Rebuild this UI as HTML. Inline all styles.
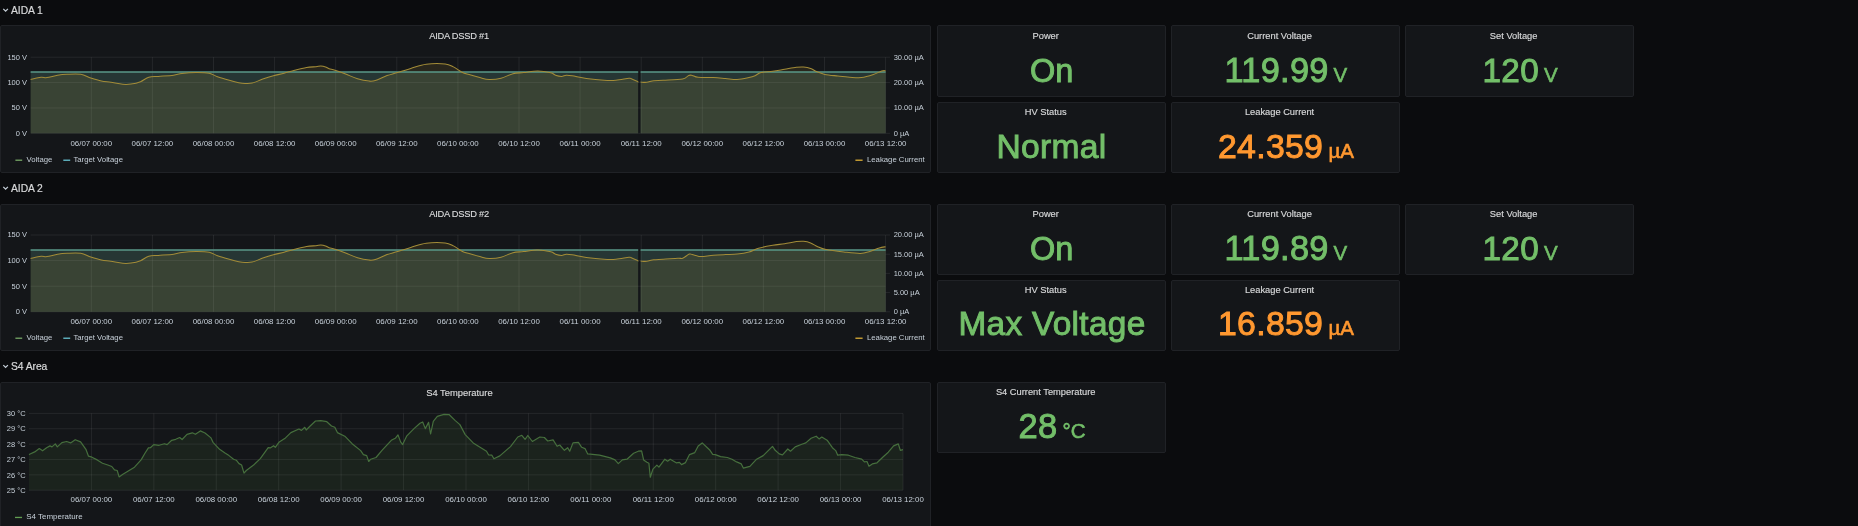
<!DOCTYPE html>
<html><head><meta charset="utf-8"><title>Grafana</title><style>
*{margin:0;padding:0;box-sizing:border-box}
html,body{width:1858px;height:526px;overflow:hidden;background:#0b0c0e}
body{position:relative;font-family:"Liberation Sans", Arial, sans-serif}
.p{position:absolute;background:#141619;border:1px solid #202226;border-radius:2px}
svg{position:absolute;left:0;top:0;will-change:transform}
text{font-family:"Liberation Sans", Arial, sans-serif}
.rh{font-size:10.3px;fill:#d8d9da;letter-spacing:-0.05px;stroke:#d8d9da;stroke-width:0.2px}
.pt{font-size:9.3px;fill:#d8d9da;letter-spacing:-0.25px;stroke:#d8d9da;stroke-width:0.15px}
.st{font-size:9.3px;fill:#d8d9da;stroke:#d8d9da;stroke-width:0.15px}
.tk{font-size:7.5px;fill:#c7d0d9}
.tx{font-size:7.9px;fill:#c7d0d9}
.lg{font-size:7.75px;fill:#c7d0d9}
.sv{font-size:33px;stroke-width:0.95px;letter-spacing:0.3px}
.su{font-size:20.5px;stroke-width:0.6px}
</style></head>
<body>
<div class="p" style="left:0px;top:25px;width:931px;height:148px"></div><div class="p" style="left:0px;top:204px;width:931px;height:147px"></div><div class="p" style="left:0px;top:382.3px;width:931px;height:177.7px"></div><div class="p" style="left:937.1px;top:25.2px;width:229.2px;height:71.5px"></div><div class="p" style="left:1170.8px;top:25.2px;width:229.5px;height:71.5px"></div><div class="p" style="left:1405px;top:25.2px;width:229.3px;height:71.5px"></div><div class="p" style="left:937.1px;top:101.7px;width:229.2px;height:71.3px"></div><div class="p" style="left:1170.8px;top:101.7px;width:229.5px;height:71.3px"></div><div class="p" style="left:937.1px;top:204px;width:229.2px;height:71px"></div><div class="p" style="left:1170.8px;top:204px;width:229.5px;height:71px"></div><div class="p" style="left:1405px;top:204px;width:229.3px;height:71px"></div><div class="p" style="left:937.1px;top:280px;width:229.2px;height:71px"></div><div class="p" style="left:1170.8px;top:280px;width:229.5px;height:71px"></div><div class="p" style="left:937.1px;top:382.3px;width:229.2px;height:70.5px"></div>
<svg width="1858" height="526" viewBox="0 0 1858 526">
<path d="M3.3 8.9 L5.6 11.2 L7.9 8.9" stroke="#c7d0d9" stroke-width="1.25" fill="none"/>
<text x="11" y="14.1" class="rh">AIDA 1</text>
<path d="M3.3 186.9 L5.6 189.2 L7.9 186.9" stroke="#c7d0d9" stroke-width="1.25" fill="none"/>
<text x="11" y="192.1" class="rh">AIDA 2</text>
<path d="M3.3 365.1 L5.6 367.4 L7.9 365.1" stroke="#c7d0d9" stroke-width="1.25" fill="none"/>
<text x="11" y="370.3" class="rh">S4 Area</text>
<text x="459.1" y="38.7" class="pt" text-anchor="middle">AIDA DSSD #1</text>
<line x1="30.6" x2="885.6" y1="133.3" y2="133.3" stroke="rgba(255,255,255,0.075)" stroke-width="1"/>
<line x1="30.6" x2="885.6" y1="107.93" y2="107.93" stroke="rgba(255,255,255,0.075)" stroke-width="1"/>
<line x1="30.6" x2="885.6" y1="82.57" y2="82.57" stroke="rgba(255,255,255,0.075)" stroke-width="1"/>
<line x1="30.6" x2="885.6" y1="57.2" y2="57.2" stroke="rgba(255,255,255,0.075)" stroke-width="1"/>
<line x1="885.6" x2="885.6" y1="57.2" y2="133.3" stroke="rgba(255,255,255,0.075)" stroke-width="1"/>
<line x1="824.5" x2="824.5" y1="57.2" y2="133.3" stroke="rgba(255,255,255,0.075)" stroke-width="1"/>
<line x1="763.4" x2="763.4" y1="57.2" y2="133.3" stroke="rgba(255,255,255,0.075)" stroke-width="1"/>
<line x1="702.3" x2="702.3" y1="57.2" y2="133.3" stroke="rgba(255,255,255,0.075)" stroke-width="1"/>
<line x1="641.2" x2="641.2" y1="57.2" y2="133.3" stroke="rgba(255,255,255,0.075)" stroke-width="1"/>
<line x1="580.1" x2="580.1" y1="57.2" y2="133.3" stroke="rgba(255,255,255,0.075)" stroke-width="1"/>
<line x1="519" x2="519" y1="57.2" y2="133.3" stroke="rgba(255,255,255,0.075)" stroke-width="1"/>
<line x1="457.9" x2="457.9" y1="57.2" y2="133.3" stroke="rgba(255,255,255,0.075)" stroke-width="1"/>
<line x1="396.8" x2="396.8" y1="57.2" y2="133.3" stroke="rgba(255,255,255,0.075)" stroke-width="1"/>
<line x1="335.7" x2="335.7" y1="57.2" y2="133.3" stroke="rgba(255,255,255,0.075)" stroke-width="1"/>
<line x1="274.6" x2="274.6" y1="57.2" y2="133.3" stroke="rgba(255,255,255,0.075)" stroke-width="1"/>
<line x1="213.5" x2="213.5" y1="57.2" y2="133.3" stroke="rgba(255,255,255,0.075)" stroke-width="1"/>
<line x1="152.4" x2="152.4" y1="57.2" y2="133.3" stroke="rgba(255,255,255,0.075)" stroke-width="1"/>
<line x1="91.3" x2="91.3" y1="57.2" y2="133.3" stroke="rgba(255,255,255,0.075)" stroke-width="1"/>
<rect x="30.6" y="72.07" width="607.6" height="61.23" fill="rgba(126,178,109,0.10)"/>
<rect x="30.6" y="72.07" width="607.6" height="61.23" fill="rgba(110,208,224,0.10)"/>
<rect x="640.6" y="72.07" width="245" height="61.23" fill="rgba(126,178,109,0.10)"/>
<rect x="640.6" y="72.07" width="245" height="61.23" fill="rgba(110,208,224,0.10)"/>
<path d="M30.6,79.5 C32.33,79.12 38.28,77.52 41,77.2 C43.72,76.88 44.13,77.93 46.9,77.6 C49.67,77.27 54.23,75.75 57.6,75.2 C60.97,74.65 63.25,74.45 67.1,74.3 C70.95,74.15 76.75,73.7 80.7,74.3 C84.65,74.9 87.35,76.8 90.8,77.9 C94.25,79 98.05,80.17 101.4,80.9 C104.75,81.63 107.35,81.73 110.9,82.3 C114.45,82.87 119.35,84 122.7,84.3 C126.05,84.6 128.03,84.53 131,84.1 C133.97,83.67 137.53,82.85 140.5,81.7 C143.47,80.55 145.83,78.08 148.8,77.2 C151.77,76.32 154.17,76.73 158.3,76.4 C162.43,76.07 169.67,75.7 173.6,75.2 C177.53,74.7 178.15,73.85 181.9,73.4 C185.65,72.95 191.55,72.53 196.1,72.5 C200.65,72.47 205.63,72.5 209.2,73.2 C212.77,73.9 214.15,75.52 217.5,76.7 C220.85,77.88 225.75,79.3 229.3,80.3 C232.85,81.3 236.18,82.17 238.8,82.7 C241.42,83.23 242.78,83.43 245,83.5 C247.22,83.57 249.13,83.83 252.1,83.1 C255.07,82.37 259.25,80.32 262.8,79.1 C266.35,77.88 269.85,76.78 273.4,75.8 C276.95,74.82 280.55,74.13 284.1,73.2 C287.65,72.27 290.95,71.15 294.7,70.2 C298.45,69.25 303.05,68.08 306.6,67.5 C310.15,66.92 313.63,66.93 316,66.7 C318.37,66.47 319.22,66.07 320.8,66.1 C322.38,66.13 324.12,66.47 325.5,66.9 C326.88,67.33 327.52,68.15 329.1,68.7 C330.68,69.25 332.25,69.32 335,70.2 C337.75,71.08 341.85,72.57 345.6,74 C349.35,75.43 353.55,77.62 357.5,78.8 C361.45,79.98 366.33,80.82 369.3,81.1 C372.27,81.38 372.33,81.42 375.3,80.5 C378.27,79.58 383.55,76.88 387.1,75.6 C390.65,74.32 392.65,74 396.6,72.8 C400.55,71.6 405.87,69.83 410.8,68.4 C415.73,66.97 420.48,64.95 426.2,64.2 C431.92,63.45 440.57,63.45 445.1,63.9 C449.63,64.35 450.58,65.52 453.4,66.9 C456.22,68.28 459.38,70.92 462,72.2 C464.62,73.48 466.13,73.7 469.1,74.6 C472.07,75.5 476.45,76.8 479.8,77.6 C483.15,78.4 485.65,79.3 489.2,79.4 C492.75,79.5 497.15,79.15 501.1,78.2 C505.05,77.25 509.15,74.63 512.9,73.7 C516.65,72.77 519.45,73.05 523.6,72.6 C527.75,72.15 533.27,70.97 537.8,71 C542.33,71.03 547.85,72.1 550.8,72.8 C553.75,73.5 553.72,74.6 555.5,75.2 C557.28,75.8 559.72,76.38 561.5,76.4 C563.28,76.42 564.43,75.4 566.2,75.3 C567.97,75.2 568.75,75.28 572.1,75.8 C575.45,76.32 580.97,77.67 586.3,78.4 C591.63,79.13 599.17,79.9 604.1,80.2 C609.03,80.5 611.75,80.53 615.9,80.2 C620.05,79.87 626.43,78.43 629,78.2 C631.57,77.97 629.83,78.22 631.3,78.8 C632.77,79.38 636.65,81.2 637.8,81.7 C638.95,82.2 638.13,81.78 638.2,81.8 L638.2,133.3 L30.6,133.3 Z" fill="rgba(234,184,57,0.10)"/>
<path d="M640.6,82.1 C641.62,82.13 644.5,82.52 646.7,82.3 C648.9,82.08 651.03,81.13 653.8,80.8 C656.57,80.47 658.48,80.6 663.3,80.3 C668.12,80 678.47,79.82 682.7,79 C686.93,78.18 687.12,76 688.7,75.4 C690.28,74.8 690.63,75.08 692.2,75.4 C693.77,75.72 694.55,76.93 698.1,77.3 C701.65,77.67 708.95,77.4 713.5,77.6 C718.05,77.8 721.45,78.18 725.4,78.5 C729.35,78.82 733.27,79.65 737.2,79.5 C741.13,79.35 746.03,78.22 749,77.6 C751.97,76.98 753.02,76.63 755,75.8 C756.98,74.97 757.95,73.35 760.9,72.6 C763.85,71.85 768.75,71.85 772.7,71.3 C776.65,70.75 780.65,69.97 784.6,69.3 C788.55,68.63 793.25,67.68 796.4,67.3 C799.55,66.92 801.13,66.82 803.5,67 C805.87,67.18 808.43,67.63 810.6,68.4 C812.77,69.17 814.13,70.6 816.5,71.6 C818.87,72.6 821.23,73.67 824.8,74.4 C828.37,75.13 833.75,75.53 837.9,76 C842.05,76.47 845.77,76.93 849.7,77.2 C853.63,77.47 857.55,78.03 861.5,77.6 C865.45,77.17 870.03,75.7 873.4,74.6 C876.77,73.5 879.67,71.65 881.7,71 C883.73,70.35 884.95,70.75 885.6,70.7 L885.6,133.3 L640.6,133.3 Z" fill="rgba(234,184,57,0.10)"/>
<line x1="30.6" x2="638.2" y1="72.07" y2="72.07" stroke="#5a9a8a" stroke-width="1.6"/>
<line x1="640.6" x2="885.6" y1="72.07" y2="72.07" stroke="#5a9a8a" stroke-width="1.6"/>
<path d="M30.6,79.5 C32.33,79.12 38.28,77.52 41,77.2 C43.72,76.88 44.13,77.93 46.9,77.6 C49.67,77.27 54.23,75.75 57.6,75.2 C60.97,74.65 63.25,74.45 67.1,74.3 C70.95,74.15 76.75,73.7 80.7,74.3 C84.65,74.9 87.35,76.8 90.8,77.9 C94.25,79 98.05,80.17 101.4,80.9 C104.75,81.63 107.35,81.73 110.9,82.3 C114.45,82.87 119.35,84 122.7,84.3 C126.05,84.6 128.03,84.53 131,84.1 C133.97,83.67 137.53,82.85 140.5,81.7 C143.47,80.55 145.83,78.08 148.8,77.2 C151.77,76.32 154.17,76.73 158.3,76.4 C162.43,76.07 169.67,75.7 173.6,75.2 C177.53,74.7 178.15,73.85 181.9,73.4 C185.65,72.95 191.55,72.53 196.1,72.5 C200.65,72.47 205.63,72.5 209.2,73.2 C212.77,73.9 214.15,75.52 217.5,76.7 C220.85,77.88 225.75,79.3 229.3,80.3 C232.85,81.3 236.18,82.17 238.8,82.7 C241.42,83.23 242.78,83.43 245,83.5 C247.22,83.57 249.13,83.83 252.1,83.1 C255.07,82.37 259.25,80.32 262.8,79.1 C266.35,77.88 269.85,76.78 273.4,75.8 C276.95,74.82 280.55,74.13 284.1,73.2 C287.65,72.27 290.95,71.15 294.7,70.2 C298.45,69.25 303.05,68.08 306.6,67.5 C310.15,66.92 313.63,66.93 316,66.7 C318.37,66.47 319.22,66.07 320.8,66.1 C322.38,66.13 324.12,66.47 325.5,66.9 C326.88,67.33 327.52,68.15 329.1,68.7 C330.68,69.25 332.25,69.32 335,70.2 C337.75,71.08 341.85,72.57 345.6,74 C349.35,75.43 353.55,77.62 357.5,78.8 C361.45,79.98 366.33,80.82 369.3,81.1 C372.27,81.38 372.33,81.42 375.3,80.5 C378.27,79.58 383.55,76.88 387.1,75.6 C390.65,74.32 392.65,74 396.6,72.8 C400.55,71.6 405.87,69.83 410.8,68.4 C415.73,66.97 420.48,64.95 426.2,64.2 C431.92,63.45 440.57,63.45 445.1,63.9 C449.63,64.35 450.58,65.52 453.4,66.9 C456.22,68.28 459.38,70.92 462,72.2 C464.62,73.48 466.13,73.7 469.1,74.6 C472.07,75.5 476.45,76.8 479.8,77.6 C483.15,78.4 485.65,79.3 489.2,79.4 C492.75,79.5 497.15,79.15 501.1,78.2 C505.05,77.25 509.15,74.63 512.9,73.7 C516.65,72.77 519.45,73.05 523.6,72.6 C527.75,72.15 533.27,70.97 537.8,71 C542.33,71.03 547.85,72.1 550.8,72.8 C553.75,73.5 553.72,74.6 555.5,75.2 C557.28,75.8 559.72,76.38 561.5,76.4 C563.28,76.42 564.43,75.4 566.2,75.3 C567.97,75.2 568.75,75.28 572.1,75.8 C575.45,76.32 580.97,77.67 586.3,78.4 C591.63,79.13 599.17,79.9 604.1,80.2 C609.03,80.5 611.75,80.53 615.9,80.2 C620.05,79.87 626.43,78.43 629,78.2 C631.57,77.97 629.83,78.22 631.3,78.8 C632.77,79.38 636.65,81.2 637.8,81.7 C638.95,82.2 638.13,81.78 638.2,81.8" fill="none" stroke="#a38c38" stroke-width="1.05" stroke-linejoin="round"/>
<path d="M640.6,82.1 C641.62,82.13 644.5,82.52 646.7,82.3 C648.9,82.08 651.03,81.13 653.8,80.8 C656.57,80.47 658.48,80.6 663.3,80.3 C668.12,80 678.47,79.82 682.7,79 C686.93,78.18 687.12,76 688.7,75.4 C690.28,74.8 690.63,75.08 692.2,75.4 C693.77,75.72 694.55,76.93 698.1,77.3 C701.65,77.67 708.95,77.4 713.5,77.6 C718.05,77.8 721.45,78.18 725.4,78.5 C729.35,78.82 733.27,79.65 737.2,79.5 C741.13,79.35 746.03,78.22 749,77.6 C751.97,76.98 753.02,76.63 755,75.8 C756.98,74.97 757.95,73.35 760.9,72.6 C763.85,71.85 768.75,71.85 772.7,71.3 C776.65,70.75 780.65,69.97 784.6,69.3 C788.55,68.63 793.25,67.68 796.4,67.3 C799.55,66.92 801.13,66.82 803.5,67 C805.87,67.18 808.43,67.63 810.6,68.4 C812.77,69.17 814.13,70.6 816.5,71.6 C818.87,72.6 821.23,73.67 824.8,74.4 C828.37,75.13 833.75,75.53 837.9,76 C842.05,76.47 845.77,76.93 849.7,77.2 C853.63,77.47 857.55,78.03 861.5,77.6 C865.45,77.17 870.03,75.7 873.4,74.6 C876.77,73.5 879.67,71.65 881.7,71 C883.73,70.35 884.95,70.75 885.6,70.7" fill="none" stroke="#a38c38" stroke-width="1.05" stroke-linejoin="round"/>
<text x="27" y="59.6" class="tk" text-anchor="end">150 V</text>
<text x="27" y="84.97" class="tk" text-anchor="end">100 V</text>
<text x="27" y="110.33" class="tk" text-anchor="end">50 V</text>
<text x="27" y="135.7" class="tk" text-anchor="end">0 V</text>
<text x="893.7" y="59.6" class="tk">30.00 µA</text>
<line x1="885.6" x2="890.1" y1="57.2" y2="57.2" stroke="rgba(255,255,255,0.075)" stroke-width="1"/>
<text x="893.7" y="84.97" class="tk">20.00 µA</text>
<line x1="885.6" x2="890.1" y1="82.57" y2="82.57" stroke="rgba(255,255,255,0.075)" stroke-width="1"/>
<text x="893.7" y="110.33" class="tk">10.00 µA</text>
<line x1="885.6" x2="890.1" y1="107.93" y2="107.93" stroke="rgba(255,255,255,0.075)" stroke-width="1"/>
<text x="893.7" y="135.7" class="tk">0 µA</text>
<line x1="885.6" x2="890.1" y1="133.3" y2="133.3" stroke="rgba(255,255,255,0.075)" stroke-width="1"/>
<text x="885.6" y="145.8" class="tx" text-anchor="middle">06/13 12:00</text>
<text x="824.5" y="145.8" class="tx" text-anchor="middle">06/13 00:00</text>
<text x="763.4" y="145.8" class="tx" text-anchor="middle">06/12 12:00</text>
<text x="702.3" y="145.8" class="tx" text-anchor="middle">06/12 00:00</text>
<text x="641.2" y="145.8" class="tx" text-anchor="middle">06/11 12:00</text>
<text x="580.1" y="145.8" class="tx" text-anchor="middle">06/11 00:00</text>
<text x="519" y="145.8" class="tx" text-anchor="middle">06/10 12:00</text>
<text x="457.9" y="145.8" class="tx" text-anchor="middle">06/10 00:00</text>
<text x="396.8" y="145.8" class="tx" text-anchor="middle">06/09 12:00</text>
<text x="335.7" y="145.8" class="tx" text-anchor="middle">06/09 00:00</text>
<text x="274.6" y="145.8" class="tx" text-anchor="middle">06/08 12:00</text>
<text x="213.5" y="145.8" class="tx" text-anchor="middle">06/08 00:00</text>
<text x="152.4" y="145.8" class="tx" text-anchor="middle">06/07 12:00</text>
<text x="91.3" y="145.8" class="tx" text-anchor="middle">06/07 00:00</text>
<rect x="15.4" width="6.8" y="159.6" height="1.2" fill="#7eb26d"/>
<text x="26.5" y="162.1" class="lg">Voltage</text>
<rect x="63.3" width="6.9" y="159.6" height="1.2" fill="#6ed0e0"/>
<text x="73.4" y="162.1" class="lg">Target Voltage</text>
<rect x="855.4" width="7.2" y="159.6" height="1.2" fill="#eab839"/>
<text x="924.7" y="162.1" class="lg" text-anchor="end">Leakage Current</text>
<text x="459.1" y="216.7" class="pt" text-anchor="middle">AIDA DSSD #2</text>
<line x1="30.6" x2="885.6" y1="311.8" y2="311.8" stroke="rgba(255,255,255,0.075)" stroke-width="1"/>
<line x1="30.6" x2="885.6" y1="286.2" y2="286.2" stroke="rgba(255,255,255,0.075)" stroke-width="1"/>
<line x1="30.6" x2="885.6" y1="260.6" y2="260.6" stroke="rgba(255,255,255,0.075)" stroke-width="1"/>
<line x1="30.6" x2="885.6" y1="235" y2="235" stroke="rgba(255,255,255,0.075)" stroke-width="1"/>
<line x1="885.6" x2="885.6" y1="235" y2="311.8" stroke="rgba(255,255,255,0.075)" stroke-width="1"/>
<line x1="824.5" x2="824.5" y1="235" y2="311.8" stroke="rgba(255,255,255,0.075)" stroke-width="1"/>
<line x1="763.4" x2="763.4" y1="235" y2="311.8" stroke="rgba(255,255,255,0.075)" stroke-width="1"/>
<line x1="702.3" x2="702.3" y1="235" y2="311.8" stroke="rgba(255,255,255,0.075)" stroke-width="1"/>
<line x1="641.2" x2="641.2" y1="235" y2="311.8" stroke="rgba(255,255,255,0.075)" stroke-width="1"/>
<line x1="580.1" x2="580.1" y1="235" y2="311.8" stroke="rgba(255,255,255,0.075)" stroke-width="1"/>
<line x1="519" x2="519" y1="235" y2="311.8" stroke="rgba(255,255,255,0.075)" stroke-width="1"/>
<line x1="457.9" x2="457.9" y1="235" y2="311.8" stroke="rgba(255,255,255,0.075)" stroke-width="1"/>
<line x1="396.8" x2="396.8" y1="235" y2="311.8" stroke="rgba(255,255,255,0.075)" stroke-width="1"/>
<line x1="335.7" x2="335.7" y1="235" y2="311.8" stroke="rgba(255,255,255,0.075)" stroke-width="1"/>
<line x1="274.6" x2="274.6" y1="235" y2="311.8" stroke="rgba(255,255,255,0.075)" stroke-width="1"/>
<line x1="213.5" x2="213.5" y1="235" y2="311.8" stroke="rgba(255,255,255,0.075)" stroke-width="1"/>
<line x1="152.4" x2="152.4" y1="235" y2="311.8" stroke="rgba(255,255,255,0.075)" stroke-width="1"/>
<line x1="91.3" x2="91.3" y1="235" y2="311.8" stroke="rgba(255,255,255,0.075)" stroke-width="1"/>
<rect x="30.6" y="250.01" width="607.6" height="61.79" fill="rgba(126,178,109,0.10)"/>
<rect x="30.6" y="250.01" width="607.6" height="61.79" fill="rgba(110,208,224,0.10)"/>
<rect x="640.6" y="250.01" width="245" height="61.79" fill="rgba(126,178,109,0.10)"/>
<rect x="640.6" y="250.01" width="245" height="61.79" fill="rgba(110,208,224,0.10)"/>
<path d="M30.6,258.5 C32.33,258.12 38.28,256.52 41,256.2 C43.72,255.88 44.13,256.93 46.9,256.6 C49.67,256.27 54.23,254.75 57.6,254.2 C60.97,253.65 63.25,253.45 67.1,253.3 C70.95,253.15 76.75,252.7 80.7,253.3 C84.65,253.9 87.35,255.8 90.8,256.9 C94.25,258 98.05,259.17 101.4,259.9 C104.75,260.63 107.35,260.73 110.9,261.3 C114.45,261.87 119.35,263 122.7,263.3 C126.05,263.6 128.03,263.53 131,263.1 C133.97,262.67 137.53,261.85 140.5,260.7 C143.47,259.55 145.83,257.08 148.8,256.2 C151.77,255.32 154.17,255.73 158.3,255.4 C162.43,255.07 169.67,254.7 173.6,254.2 C177.53,253.7 178.15,252.85 181.9,252.4 C185.65,251.95 191.55,251.53 196.1,251.5 C200.65,251.47 205.63,251.5 209.2,252.2 C212.77,252.9 214.15,254.52 217.5,255.7 C220.85,256.88 225.75,258.3 229.3,259.3 C232.85,260.3 236.18,261.17 238.8,261.7 C241.42,262.23 242.78,262.43 245,262.5 C247.22,262.57 249.13,262.83 252.1,262.1 C255.07,261.37 259.25,259.32 262.8,258.1 C266.35,256.88 269.85,255.78 273.4,254.8 C276.95,253.82 280.55,253.13 284.1,252.2 C287.65,251.27 290.95,250.15 294.7,249.2 C298.45,248.25 303.05,247.08 306.6,246.5 C310.15,245.92 313.63,245.93 316,245.7 C318.37,245.47 319.22,245.07 320.8,245.1 C322.38,245.13 324.12,245.47 325.5,245.9 C326.88,246.33 327.52,247.15 329.1,247.7 C330.68,248.25 332.25,248.32 335,249.2 C337.75,250.08 341.85,251.57 345.6,253 C349.35,254.43 353.55,256.62 357.5,257.8 C361.45,258.98 366.33,259.82 369.3,260.1 C372.27,260.38 372.33,260.42 375.3,259.5 C378.27,258.58 383.55,255.88 387.1,254.6 C390.65,253.32 392.65,253 396.6,251.8 C400.55,250.6 405.87,248.83 410.8,247.4 C415.73,245.97 420.48,243.95 426.2,243.2 C431.92,242.45 440.57,242.45 445.1,242.9 C449.63,243.35 450.58,244.52 453.4,245.9 C456.22,247.28 459.38,249.92 462,251.2 C464.62,252.48 466.13,252.7 469.1,253.6 C472.07,254.5 476.45,255.8 479.8,256.6 C483.15,257.4 485.65,258.3 489.2,258.4 C492.75,258.5 497.15,258.15 501.1,257.2 C505.05,256.25 509.15,253.63 512.9,252.7 C516.65,251.77 519.45,252.05 523.6,251.6 C527.75,251.15 533.27,249.97 537.8,250 C542.33,250.03 547.85,251.1 550.8,251.8 C553.75,252.5 553.72,253.6 555.5,254.2 C557.28,254.8 559.72,255.38 561.5,255.4 C563.28,255.42 564.43,254.4 566.2,254.3 C567.97,254.2 568.75,254.28 572.1,254.8 C575.45,255.32 580.97,256.67 586.3,257.4 C591.63,258.13 599.17,258.9 604.1,259.2 C609.03,259.5 611.75,259.53 615.9,259.2 C620.05,258.87 626.43,257.43 629,257.2 C631.57,256.97 629.83,257.22 631.3,257.8 C632.77,258.38 636.65,260.2 637.8,260.7 C638.95,261.2 638.13,260.78 638.2,260.8 L638.2,311.8 L30.6,311.8 Z" fill="rgba(234,184,57,0.10)"/>
<path d="M640.6,261.1 C641.62,261.13 644.5,261.52 646.7,261.3 C648.9,261.08 651.03,260.13 653.8,259.8 C656.57,259.47 659.27,259.57 663.3,259.3 C667.33,259.03 674.77,258.38 678,258.2 C681.23,258.02 680.83,258.88 682.7,258.2 C684.57,257.52 687.62,254.7 689.2,254.1 C690.78,253.5 690.72,254.25 692.2,254.6 C693.68,254.95 696.52,255.88 698.1,256.2 C699.68,256.52 699.13,256.65 701.7,256.5 C704.27,256.35 709.55,255.62 713.5,255.3 C717.45,254.98 721.45,254.8 725.4,254.6 C729.35,254.4 733.27,254.53 737.2,254.1 C741.13,253.67 745.45,252.98 749,252 C752.55,251.02 754.55,249.32 758.5,248.2 C762.45,247.08 768.35,246.05 772.7,245.3 C777.05,244.55 780.65,244.32 784.6,243.7 C788.55,243.08 793.25,242 796.4,241.6 C799.55,241.2 801.13,241.08 803.5,241.3 C805.87,241.52 808.23,242 810.6,242.9 C812.97,243.8 815.13,245.58 817.7,246.7 C820.27,247.82 821.65,248.72 826,249.6 C830.35,250.48 838.07,251.37 843.8,252 C849.53,252.63 856.07,253.5 860.4,253.4 C864.73,253.3 866.65,252.32 869.8,251.4 C872.95,250.48 876.67,248.68 879.3,247.9 C881.93,247.12 884.55,246.9 885.6,246.7 L885.6,311.8 L640.6,311.8 Z" fill="rgba(234,184,57,0.10)"/>
<line x1="30.6" x2="638.2" y1="250.01" y2="250.01" stroke="#5a9a8a" stroke-width="1.6"/>
<line x1="640.6" x2="885.6" y1="250.01" y2="250.01" stroke="#5a9a8a" stroke-width="1.6"/>
<path d="M30.6,258.5 C32.33,258.12 38.28,256.52 41,256.2 C43.72,255.88 44.13,256.93 46.9,256.6 C49.67,256.27 54.23,254.75 57.6,254.2 C60.97,253.65 63.25,253.45 67.1,253.3 C70.95,253.15 76.75,252.7 80.7,253.3 C84.65,253.9 87.35,255.8 90.8,256.9 C94.25,258 98.05,259.17 101.4,259.9 C104.75,260.63 107.35,260.73 110.9,261.3 C114.45,261.87 119.35,263 122.7,263.3 C126.05,263.6 128.03,263.53 131,263.1 C133.97,262.67 137.53,261.85 140.5,260.7 C143.47,259.55 145.83,257.08 148.8,256.2 C151.77,255.32 154.17,255.73 158.3,255.4 C162.43,255.07 169.67,254.7 173.6,254.2 C177.53,253.7 178.15,252.85 181.9,252.4 C185.65,251.95 191.55,251.53 196.1,251.5 C200.65,251.47 205.63,251.5 209.2,252.2 C212.77,252.9 214.15,254.52 217.5,255.7 C220.85,256.88 225.75,258.3 229.3,259.3 C232.85,260.3 236.18,261.17 238.8,261.7 C241.42,262.23 242.78,262.43 245,262.5 C247.22,262.57 249.13,262.83 252.1,262.1 C255.07,261.37 259.25,259.32 262.8,258.1 C266.35,256.88 269.85,255.78 273.4,254.8 C276.95,253.82 280.55,253.13 284.1,252.2 C287.65,251.27 290.95,250.15 294.7,249.2 C298.45,248.25 303.05,247.08 306.6,246.5 C310.15,245.92 313.63,245.93 316,245.7 C318.37,245.47 319.22,245.07 320.8,245.1 C322.38,245.13 324.12,245.47 325.5,245.9 C326.88,246.33 327.52,247.15 329.1,247.7 C330.68,248.25 332.25,248.32 335,249.2 C337.75,250.08 341.85,251.57 345.6,253 C349.35,254.43 353.55,256.62 357.5,257.8 C361.45,258.98 366.33,259.82 369.3,260.1 C372.27,260.38 372.33,260.42 375.3,259.5 C378.27,258.58 383.55,255.88 387.1,254.6 C390.65,253.32 392.65,253 396.6,251.8 C400.55,250.6 405.87,248.83 410.8,247.4 C415.73,245.97 420.48,243.95 426.2,243.2 C431.92,242.45 440.57,242.45 445.1,242.9 C449.63,243.35 450.58,244.52 453.4,245.9 C456.22,247.28 459.38,249.92 462,251.2 C464.62,252.48 466.13,252.7 469.1,253.6 C472.07,254.5 476.45,255.8 479.8,256.6 C483.15,257.4 485.65,258.3 489.2,258.4 C492.75,258.5 497.15,258.15 501.1,257.2 C505.05,256.25 509.15,253.63 512.9,252.7 C516.65,251.77 519.45,252.05 523.6,251.6 C527.75,251.15 533.27,249.97 537.8,250 C542.33,250.03 547.85,251.1 550.8,251.8 C553.75,252.5 553.72,253.6 555.5,254.2 C557.28,254.8 559.72,255.38 561.5,255.4 C563.28,255.42 564.43,254.4 566.2,254.3 C567.97,254.2 568.75,254.28 572.1,254.8 C575.45,255.32 580.97,256.67 586.3,257.4 C591.63,258.13 599.17,258.9 604.1,259.2 C609.03,259.5 611.75,259.53 615.9,259.2 C620.05,258.87 626.43,257.43 629,257.2 C631.57,256.97 629.83,257.22 631.3,257.8 C632.77,258.38 636.65,260.2 637.8,260.7 C638.95,261.2 638.13,260.78 638.2,260.8" fill="none" stroke="#a38c38" stroke-width="1.05" stroke-linejoin="round"/>
<path d="M640.6,261.1 C641.62,261.13 644.5,261.52 646.7,261.3 C648.9,261.08 651.03,260.13 653.8,259.8 C656.57,259.47 659.27,259.57 663.3,259.3 C667.33,259.03 674.77,258.38 678,258.2 C681.23,258.02 680.83,258.88 682.7,258.2 C684.57,257.52 687.62,254.7 689.2,254.1 C690.78,253.5 690.72,254.25 692.2,254.6 C693.68,254.95 696.52,255.88 698.1,256.2 C699.68,256.52 699.13,256.65 701.7,256.5 C704.27,256.35 709.55,255.62 713.5,255.3 C717.45,254.98 721.45,254.8 725.4,254.6 C729.35,254.4 733.27,254.53 737.2,254.1 C741.13,253.67 745.45,252.98 749,252 C752.55,251.02 754.55,249.32 758.5,248.2 C762.45,247.08 768.35,246.05 772.7,245.3 C777.05,244.55 780.65,244.32 784.6,243.7 C788.55,243.08 793.25,242 796.4,241.6 C799.55,241.2 801.13,241.08 803.5,241.3 C805.87,241.52 808.23,242 810.6,242.9 C812.97,243.8 815.13,245.58 817.7,246.7 C820.27,247.82 821.65,248.72 826,249.6 C830.35,250.48 838.07,251.37 843.8,252 C849.53,252.63 856.07,253.5 860.4,253.4 C864.73,253.3 866.65,252.32 869.8,251.4 C872.95,250.48 876.67,248.68 879.3,247.9 C881.93,247.12 884.55,246.9 885.6,246.7" fill="none" stroke="#a38c38" stroke-width="1.05" stroke-linejoin="round"/>
<text x="27" y="237.4" class="tk" text-anchor="end">150 V</text>
<text x="27" y="263" class="tk" text-anchor="end">100 V</text>
<text x="27" y="288.6" class="tk" text-anchor="end">50 V</text>
<text x="27" y="314.2" class="tk" text-anchor="end">0 V</text>
<text x="893.7" y="237.4" class="tk">20.00 µA</text>
<line x1="885.6" x2="890.1" y1="235" y2="235" stroke="rgba(255,255,255,0.075)" stroke-width="1"/>
<text x="893.7" y="256.6" class="tk">15.00 µA</text>
<line x1="885.6" x2="890.1" y1="254.2" y2="254.2" stroke="rgba(255,255,255,0.075)" stroke-width="1"/>
<text x="893.7" y="275.8" class="tk">10.00 µA</text>
<line x1="885.6" x2="890.1" y1="273.4" y2="273.4" stroke="rgba(255,255,255,0.075)" stroke-width="1"/>
<text x="893.7" y="295" class="tk">5.00 µA</text>
<line x1="885.6" x2="890.1" y1="292.6" y2="292.6" stroke="rgba(255,255,255,0.075)" stroke-width="1"/>
<text x="893.7" y="314.2" class="tk">0 µA</text>
<line x1="885.6" x2="890.1" y1="311.8" y2="311.8" stroke="rgba(255,255,255,0.075)" stroke-width="1"/>
<text x="885.6" y="323.8" class="tx" text-anchor="middle">06/13 12:00</text>
<text x="824.5" y="323.8" class="tx" text-anchor="middle">06/13 00:00</text>
<text x="763.4" y="323.8" class="tx" text-anchor="middle">06/12 12:00</text>
<text x="702.3" y="323.8" class="tx" text-anchor="middle">06/12 00:00</text>
<text x="641.2" y="323.8" class="tx" text-anchor="middle">06/11 12:00</text>
<text x="580.1" y="323.8" class="tx" text-anchor="middle">06/11 00:00</text>
<text x="519" y="323.8" class="tx" text-anchor="middle">06/10 12:00</text>
<text x="457.9" y="323.8" class="tx" text-anchor="middle">06/10 00:00</text>
<text x="396.8" y="323.8" class="tx" text-anchor="middle">06/09 12:00</text>
<text x="335.7" y="323.8" class="tx" text-anchor="middle">06/09 00:00</text>
<text x="274.6" y="323.8" class="tx" text-anchor="middle">06/08 12:00</text>
<text x="213.5" y="323.8" class="tx" text-anchor="middle">06/08 00:00</text>
<text x="152.4" y="323.8" class="tx" text-anchor="middle">06/07 12:00</text>
<text x="91.3" y="323.8" class="tx" text-anchor="middle">06/07 00:00</text>
<rect x="15.4" width="6.8" y="337.6" height="1.2" fill="#7eb26d"/>
<text x="26.5" y="340.1" class="lg">Voltage</text>
<rect x="63.3" width="6.9" y="337.6" height="1.2" fill="#6ed0e0"/>
<text x="73.4" y="340.1" class="lg">Target Voltage</text>
<rect x="855.4" width="7.2" y="337.6" height="1.2" fill="#eab839"/>
<text x="924.7" y="340.1" class="lg" text-anchor="end">Leakage Current</text>
<text x="459.4" y="395.5" class="pt" text-anchor="middle" style="letter-spacing:0;font-size:9.4px">S4 Temperature</text>
<line x1="29" x2="903" y1="413.4" y2="413.4" stroke="rgba(255,255,255,0.075)" stroke-width="1"/>
<text x="25.6" y="416.1" class="tk" text-anchor="end">30 °C</text>
<line x1="29" x2="903" y1="428.76" y2="428.76" stroke="rgba(255,255,255,0.075)" stroke-width="1"/>
<text x="25.6" y="431.46" class="tk" text-anchor="end">29 °C</text>
<line x1="29" x2="903" y1="444.12" y2="444.12" stroke="rgba(255,255,255,0.075)" stroke-width="1"/>
<text x="25.6" y="446.82" class="tk" text-anchor="end">28 °C</text>
<line x1="29" x2="903" y1="459.48" y2="459.48" stroke="rgba(255,255,255,0.075)" stroke-width="1"/>
<text x="25.6" y="462.18" class="tk" text-anchor="end">27 °C</text>
<line x1="29" x2="903" y1="474.84" y2="474.84" stroke="rgba(255,255,255,0.075)" stroke-width="1"/>
<text x="25.6" y="477.54" class="tk" text-anchor="end">26 °C</text>
<line x1="29" x2="903" y1="490.2" y2="490.2" stroke="rgba(255,255,255,0.075)" stroke-width="1"/>
<text x="25.6" y="492.9" class="tk" text-anchor="end">25 °C</text>
<line x1="903" x2="903" y1="413.4" y2="490.2" stroke="rgba(255,255,255,0.075)" stroke-width="1"/>
<text x="903" y="502" class="tx" text-anchor="middle">06/13 12:00</text>
<line x1="840.57" x2="840.57" y1="413.4" y2="490.2" stroke="rgba(255,255,255,0.075)" stroke-width="1"/>
<text x="840.57" y="502" class="tx" text-anchor="middle">06/13 00:00</text>
<line x1="778.14" x2="778.14" y1="413.4" y2="490.2" stroke="rgba(255,255,255,0.075)" stroke-width="1"/>
<text x="778.14" y="502" class="tx" text-anchor="middle">06/12 12:00</text>
<line x1="715.71" x2="715.71" y1="413.4" y2="490.2" stroke="rgba(255,255,255,0.075)" stroke-width="1"/>
<text x="715.71" y="502" class="tx" text-anchor="middle">06/12 00:00</text>
<line x1="653.28" x2="653.28" y1="413.4" y2="490.2" stroke="rgba(255,255,255,0.075)" stroke-width="1"/>
<text x="653.28" y="502" class="tx" text-anchor="middle">06/11 12:00</text>
<line x1="590.85" x2="590.85" y1="413.4" y2="490.2" stroke="rgba(255,255,255,0.075)" stroke-width="1"/>
<text x="590.85" y="502" class="tx" text-anchor="middle">06/11 00:00</text>
<line x1="528.42" x2="528.42" y1="413.4" y2="490.2" stroke="rgba(255,255,255,0.075)" stroke-width="1"/>
<text x="528.42" y="502" class="tx" text-anchor="middle">06/10 12:00</text>
<line x1="465.99" x2="465.99" y1="413.4" y2="490.2" stroke="rgba(255,255,255,0.075)" stroke-width="1"/>
<text x="465.99" y="502" class="tx" text-anchor="middle">06/10 00:00</text>
<line x1="403.56" x2="403.56" y1="413.4" y2="490.2" stroke="rgba(255,255,255,0.075)" stroke-width="1"/>
<text x="403.56" y="502" class="tx" text-anchor="middle">06/09 12:00</text>
<line x1="341.13" x2="341.13" y1="413.4" y2="490.2" stroke="rgba(255,255,255,0.075)" stroke-width="1"/>
<text x="341.13" y="502" class="tx" text-anchor="middle">06/09 00:00</text>
<line x1="278.7" x2="278.7" y1="413.4" y2="490.2" stroke="rgba(255,255,255,0.075)" stroke-width="1"/>
<text x="278.7" y="502" class="tx" text-anchor="middle">06/08 12:00</text>
<line x1="216.27" x2="216.27" y1="413.4" y2="490.2" stroke="rgba(255,255,255,0.075)" stroke-width="1"/>
<text x="216.27" y="502" class="tx" text-anchor="middle">06/08 00:00</text>
<line x1="153.84" x2="153.84" y1="413.4" y2="490.2" stroke="rgba(255,255,255,0.075)" stroke-width="1"/>
<text x="153.84" y="502" class="tx" text-anchor="middle">06/07 12:00</text>
<line x1="91.41" x2="91.41" y1="413.4" y2="490.2" stroke="rgba(255,255,255,0.075)" stroke-width="1"/>
<text x="91.41" y="502" class="tx" text-anchor="middle">06/07 00:00</text>
<polygon points="29,490.2 29,454.6 29.6,454.3 34.7,451.9 39.3,448.6 42.6,450.8 46.6,447.7 50,445.9 52,446.9 55.3,443.9 57.3,446.9 61.9,442.6 66.6,441.5 70.6,442.9 75.2,439.7 80.6,441.9 85.9,449.3 88.5,456.2 91.9,457.2 97.2,459.9 102.5,463.2 107.8,465 111.8,466.5 114.5,469.9 117.2,470.5 119.1,476.9 122.5,474.5 129.1,470.5 134.5,467.2 141.1,459.9 145.1,453 148.4,447.9 150.4,447.7 153.7,444.6 159.1,445.3 164.4,443.7 167.1,444.6 171.7,440.3 175.7,439.3 179.7,437.5 182.1,439.5 187,434.3 192.3,432.8 195.4,434.3 200.3,430.9 205,433 211,437.9 213,442.3 219.6,449.3 225,453 229,455.6 233.6,459.2 236.3,460.2 239,463.6 241.6,465 244,473.2 246.3,470.5 253.6,465 260.3,458.6 268.2,447.7 270.2,447.9 273.6,445.7 275.3,447.3 278.9,442.3 285.5,437.9 290.9,432.6 298.9,429 301.5,430.4 304.8,427.3 306.2,430 310.2,426 315.5,421 320.8,420.6 326.8,421.7 331.5,426 334.8,427.3 337.4,432.6 344.8,436.2 352.1,443.7 360.7,450.6 363.4,454.6 366.7,455.6 368.7,461.5 370.7,459.2 376,457.5 382,450.3 391.3,440.3 395.3,438.3 398,434.9 400.6,441.9 402.6,444.6 406.6,436.2 414,428.6 420,423.3 422.7,422 425.3,428.6 428.6,422.4 430.6,434 433.3,421.3 437.3,416.3 444,414.4 449.3,414.7 455.3,420.6 459.9,424.6 465.2,434.6 473.2,442.9 486.5,451.2 488.5,454.8 491.9,455.2 493.9,458.8 499.8,455.9 510.5,446.6 517.8,437 521.8,435.3 525.1,439.3 527.8,435.5 532.4,441.5 539.8,437 544.4,437.5 547.7,441 553.1,439.9 557.1,446.3 559.7,445 564.4,450.3 567.7,447.7 569.7,451.2 573,442.9 578.4,442.3 581.7,447.3 585,448.6 587.7,453.9 599.6,455.2 610.3,457.9 615,459.9 618.3,463.6 622.3,459.9 627,459.2 633.6,453.2 638.3,451.2 641.6,450.8 643.6,459.9 646.9,462.3 648.9,463.2 650.3,477.2 652.9,469.2 656.9,465.2 658.9,467.2 664.9,459.2 667.6,461.2 670.2,459.2 676.2,462.8 679.5,462.3 681.5,464.6 685.5,462.6 689.5,454.6 694.8,452.6 698.2,445.9 702.2,442.9 706.8,447.3 710,450.3 712.7,454.3 715.3,454.6 720.6,456.6 727.3,457.5 732,459.2 736.6,461.9 741.3,463.9 743.3,468.1 749.9,466.3 756.6,459.2 763.2,455.6 772.5,446.3 775.2,450.3 779.2,453.9 782.5,454.8 787.8,449 790.5,451.2 795.2,446.9 801.8,444.2 805.8,442.9 811.1,438.3 816.2,436.2 819.1,438.9 821.8,437 827.1,440.2 832.4,447.7 835.7,450.6 837.7,455.2 841.7,454.6 848.4,455.2 855,457.5 861.7,459.2 864.4,461.9 867,461.5 869,466.3 872.3,463.9 877,462.8 883,457 888.3,452.2 893.6,445.9 898.3,443.9 900.3,450.3 903,449.6 903,490.2" fill="rgba(80,134,66,0.12)"/>
<polyline points="29,454.6 29.6,454.3 34.7,451.9 39.3,448.6 42.6,450.8 46.6,447.7 50,445.9 52,446.9 55.3,443.9 57.3,446.9 61.9,442.6 66.6,441.5 70.6,442.9 75.2,439.7 80.6,441.9 85.9,449.3 88.5,456.2 91.9,457.2 97.2,459.9 102.5,463.2 107.8,465 111.8,466.5 114.5,469.9 117.2,470.5 119.1,476.9 122.5,474.5 129.1,470.5 134.5,467.2 141.1,459.9 145.1,453 148.4,447.9 150.4,447.7 153.7,444.6 159.1,445.3 164.4,443.7 167.1,444.6 171.7,440.3 175.7,439.3 179.7,437.5 182.1,439.5 187,434.3 192.3,432.8 195.4,434.3 200.3,430.9 205,433 211,437.9 213,442.3 219.6,449.3 225,453 229,455.6 233.6,459.2 236.3,460.2 239,463.6 241.6,465 244,473.2 246.3,470.5 253.6,465 260.3,458.6 268.2,447.7 270.2,447.9 273.6,445.7 275.3,447.3 278.9,442.3 285.5,437.9 290.9,432.6 298.9,429 301.5,430.4 304.8,427.3 306.2,430 310.2,426 315.5,421 320.8,420.6 326.8,421.7 331.5,426 334.8,427.3 337.4,432.6 344.8,436.2 352.1,443.7 360.7,450.6 363.4,454.6 366.7,455.6 368.7,461.5 370.7,459.2 376,457.5 382,450.3 391.3,440.3 395.3,438.3 398,434.9 400.6,441.9 402.6,444.6 406.6,436.2 414,428.6 420,423.3 422.7,422 425.3,428.6 428.6,422.4 430.6,434 433.3,421.3 437.3,416.3 444,414.4 449.3,414.7 455.3,420.6 459.9,424.6 465.2,434.6 473.2,442.9 486.5,451.2 488.5,454.8 491.9,455.2 493.9,458.8 499.8,455.9 510.5,446.6 517.8,437 521.8,435.3 525.1,439.3 527.8,435.5 532.4,441.5 539.8,437 544.4,437.5 547.7,441 553.1,439.9 557.1,446.3 559.7,445 564.4,450.3 567.7,447.7 569.7,451.2 573,442.9 578.4,442.3 581.7,447.3 585,448.6 587.7,453.9 599.6,455.2 610.3,457.9 615,459.9 618.3,463.6 622.3,459.9 627,459.2 633.6,453.2 638.3,451.2 641.6,450.8 643.6,459.9 646.9,462.3 648.9,463.2 650.3,477.2 652.9,469.2 656.9,465.2 658.9,467.2 664.9,459.2 667.6,461.2 670.2,459.2 676.2,462.8 679.5,462.3 681.5,464.6 685.5,462.6 689.5,454.6 694.8,452.6 698.2,445.9 702.2,442.9 706.8,447.3 710,450.3 712.7,454.3 715.3,454.6 720.6,456.6 727.3,457.5 732,459.2 736.6,461.9 741.3,463.9 743.3,468.1 749.9,466.3 756.6,459.2 763.2,455.6 772.5,446.3 775.2,450.3 779.2,453.9 782.5,454.8 787.8,449 790.5,451.2 795.2,446.9 801.8,444.2 805.8,442.9 811.1,438.3 816.2,436.2 819.1,438.9 821.8,437 827.1,440.2 832.4,447.7 835.7,450.6 837.7,455.2 841.7,454.6 848.4,455.2 855,457.5 861.7,459.2 864.4,461.9 867,461.5 869,466.3 872.3,463.9 877,462.8 883,457 888.3,452.2 893.6,445.9 898.3,443.9 900.3,450.3 903,449.6" fill="none" stroke="#466f3d" stroke-width="1.2" stroke-linejoin="round"/>
<rect x="15" width="7" y="516.8" height="1.3" fill="#629e51"/>
<text x="26.3" y="519.3" class="lg" style="font-size:7.95px">S4 Temperature</text>
<text x="1045.7" y="39" class="st" text-anchor="middle">Power</text>
<text x="1051.6" y="81.8" class="sv" fill="#73bf69" stroke="#73bf69" style="font-size:32.5px;letter-spacing:0" text-anchor="middle">On</text>
<text x="1279.55" y="39" class="st" text-anchor="middle">Current Voltage</text>
<text x="1224.5" y="81.8" class="sv" fill="#73bf69" stroke="#73bf69" style="font-size:34.3px">119.99</text>
<text x="1333.5" y="81.8" class="su" fill="#73bf69" stroke="#73bf69">V</text>
<text x="1513.65" y="39" class="st" text-anchor="middle">Set Voltage</text>
<text x="1482.5" y="81.8" class="sv" fill="#73bf69" stroke="#73bf69" style="font-size:33.3px">120</text>
<text x="1544" y="81.8" class="su" fill="#73bf69" stroke="#73bf69">V</text>
<text x="1045.7" y="115" class="st" text-anchor="middle">HV Status</text>
<text x="1051.55" y="157.6" class="sv" fill="#73bf69" stroke="#73bf69" style="font-size:33.6px" text-anchor="middle">Normal</text>
<text x="1279.55" y="115" class="st" text-anchor="middle">Leakage Current</text>
<text x="1218" y="157.6" class="sv" fill="#ff9830" stroke="#ff9830" style="font-size:33.8px">24.359</text>
<text x="1328.5" y="157.6" class="su" fill="#ff9830" stroke="#ff9830">µA</text>
<text x="1045.7" y="216.8" class="st" text-anchor="middle">Power</text>
<text x="1051.6" y="259.6" class="sv" fill="#73bf69" stroke="#73bf69" style="font-size:32.5px;letter-spacing:0" text-anchor="middle">On</text>
<text x="1279.55" y="216.8" class="st" text-anchor="middle">Current Voltage</text>
<text x="1224.5" y="259.6" class="sv" fill="#73bf69" stroke="#73bf69" style="font-size:34.3px">119.89</text>
<text x="1333.5" y="259.6" class="su" fill="#73bf69" stroke="#73bf69">V</text>
<text x="1513.65" y="216.8" class="st" text-anchor="middle">Set Voltage</text>
<text x="1482.5" y="259.6" class="sv" fill="#73bf69" stroke="#73bf69" style="font-size:33.3px">120</text>
<text x="1544" y="259.6" class="su" fill="#73bf69" stroke="#73bf69">V</text>
<text x="1045.7" y="292.8" class="st" text-anchor="middle">HV Status</text>
<text x="1052" y="335.4" class="sv" fill="#73bf69" stroke="#73bf69" style="font-size:33.4px" text-anchor="middle">Max Voltage</text>
<text x="1279.55" y="292.8" class="st" text-anchor="middle">Leakage Current</text>
<text x="1218" y="335.4" class="sv" fill="#ff9830" stroke="#ff9830" style="font-size:33.8px">16.859</text>
<text x="1328.5" y="335.4" class="su" fill="#ff9830" stroke="#ff9830">µA</text>
<text x="1045.7" y="395" class="st" text-anchor="middle">S4 Current Temperature</text>
<text x="1018.5" y="437.5" class="sv" fill="#73bf69" stroke="#73bf69" style="font-size:34.5px">28</text>
<text x="1062.5" y="437.5" class="su" fill="#73bf69" stroke="#73bf69">°C</text>
</svg>
</body></html>
